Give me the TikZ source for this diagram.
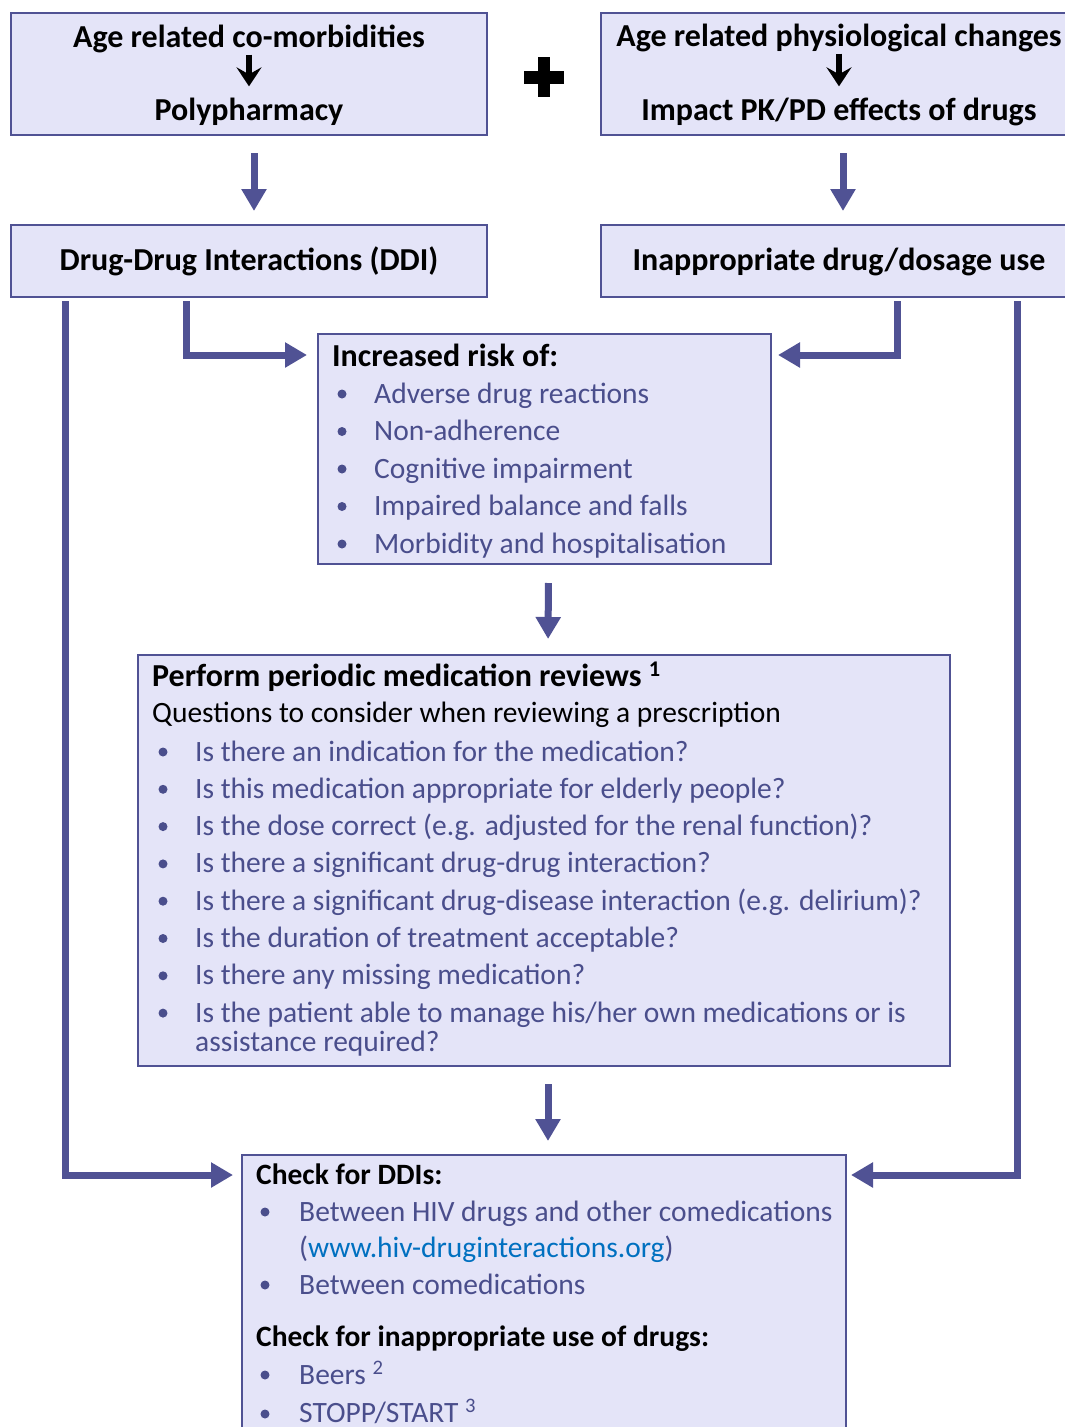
\documentclass[tikz,border=0pt]{standalone}
\usepackage{fontspec}
\setmainfont{Carlito}
\usetikzlibrary{arrows.meta,positioning,calc}
\definecolor{boxfill}{RGB}{228,228,248}
\definecolor{boxline}{RGB}{80,82,148}
\definecolor{itemcol}{RGB}{74,78,140}
\definecolor{linkcol}{RGB}{0,112,192}
\tikzset{
  box/.style={draw=boxline, line width=2pt, fill=boxfill, inner sep=0pt},
  flow/.style={draw=boxline, line width=7pt, -{Triangle[length=22pt,width=24pt]}},
  minor/.style={draw=black, line width=6pt, -{Stealth[length=19pt,width=25pt,inset=7pt]}},
  head/.style={font=\fontsize{32}{38}\selectfont\bfseries, inner sep=0pt},
  chkhead/.style={font=\fontsize{29.5}{35}\selectfont\bfseries, inner sep=0pt, anchor=base west},
  txt/.style={font=\fontsize{29.5}{35}\selectfont, text=itemcol, inner sep=0pt, anchor=base west},
  dot/.style={circle, fill=itemcol, inner sep=0pt, minimum size=9pt},
}
\begin{document}
\begin{tikzpicture}[x=1pt, y=-1pt]
  \useasboundingbox (0,0) rectangle (1065,1427);
  \clip (0,0) rectangle (1065,1427);

  % top row
  \node[box, minimum width=476pt, minimum height=122pt] (agecm) at (249,74) {};
  \node[box, minimum width=476pt, minimum height=122pt] (agephys) at (839,74) {};
  \node[head, anchor=base] (agecm1) at (249,47) {Age related co-morbidities};
  \node[head, anchor=base] (agecm2) at (249,120) {Polypharmacy};
  \node[head, anchor=base] (agephys1) at (839,46) {Age related physiological changes};
  \node[head, anchor=base] (agephys2) at (839,120) {Impact PK/PD effects of drugs};
  \draw[minor, shorten <=2pt, shorten >=11pt] (agecm1) -- (agecm2);
  \draw[minor, shorten <=2pt, shorten >=11pt] (agephys1) -- (agephys2);
  \fill (538,57) rectangle (550,97);
  \fill (524,71) rectangle (564,84);

  % second row
  \node[box, minimum width=476pt, minimum height=72pt] (ddi) at (249,261) {};
  \node[box, minimum width=476pt, minimum height=72pt] (inapp) at (839,261) {};
  \node[head, anchor=base] (ddi1) at (249,270) {Drug-Drug Interactions (DDI)};
  \node[head, anchor=base] (inapp1) at (839,270) {Inappropriate drug/dosage use};
  \draw[flow, shorten <=17pt, shorten >=13pt] ([xshift=5pt]agecm.south) -- ([xshift=5pt]ddi.north);
  \draw[flow, shorten <=17pt, shorten >=13pt] ([xshift=4pt]agephys.south) -- ([xshift=4pt]inapp.north);

  % increased risk
  \node[box, minimum width=453pt, minimum height=230pt] (risk) at (544.5,449) {};
  \node[head, anchor=base west] (risktitle) at (332,366) {Increased risk of:};
  \foreach \txt [count=\i] in {Adverse drug reactions, Non-adherence, Cognitive impairment,
      Impaired balance and falls, Morbidity and hospitalisation} {
    \node[dot] (riskdot\i) at (342,{394+(\i-1)*37.5}) {};
    \node[txt] (risk\i) at (374,{403+(\i-1)*37.5}) {\txt};
  }
  \draw[flow, shorten <=3pt, shorten >=10pt] ([xshift=176pt]ddi.south west) |- ([yshift=-22pt]risk.north west);
  \draw[flow, shorten <=3pt, shorten >=6pt] ([xshift=297pt]inapp.south west) |- ([yshift=-22pt]risk.north east);

  % medication reviews
  \node[box, minimum width=812pt, minimum height=411pt] (review) at (544,860.5) {};
  \node[head, anchor=base west] (reviewtitle) at (152,686) {Perform periodic medication reviews \textsuperscript{1}};
  \node[txt, text=black] (reviewsub) at (152,722) {Questions to consider when reviewing a prescription};
  \foreach \txt [count=\i] in {Is there an indication for the medication?,
      Is this medication appropriate for elderly people?,
      Is the dose correct (e.g. adjusted for the renal function)?,
      Is there a significant drug-drug interaction?,
      Is there a significant drug-disease interaction (e.g. delirium)?,
      Is the duration of treatment acceptable?,
      Is there any missing medication?,
      Is the patient able to manage his/her own medications or is} {
    \node[dot] (revdot\i) at (163,{752+(\i-1)*37.3}) {};
    \node[txt] (rev\i) at (195,{761+(\i-1)*37.3}) {\txt};
  }
  \node[txt] (rev8b) at (195,1051) {assistance required?};
  \draw[flow, shorten <=18pt, shorten >=15pt] ([xshift=4pt]risk.south) -- ([xshift=4pt]review.north);

  % checks
  \node[box, minimum width=604pt, minimum height=345pt] (check) at (544,1327.5) {};
  \node[chkhead] (checkddi) at (256,1184) {Check for DDIs:};
  \node[dot] (chkdot1) at (265,1212) {};
  \node[txt] (chk1) at (299,1221) {Between HIV drugs and other comedications};
  \node[txt] (chk1b) at (299,1257) {(\textcolor{linkcol}{www.hiv-druginteractions.org})};
  \node[dot] (chkdot2) at (265,1285) {};
  \node[txt] (chk2) at (299,1294) {Between comedications};
  \node[chkhead] (checkuse) at (256,1346) {Check for inappropriate use of drugs:};
  \node[dot] (chkdot3) at (265,1375) {};
  \node[txt] (chk3) at (299,1384) {Beers \textsuperscript{2}};
  \node[dot] (chkdot4) at (265,1414) {};
  \node[txt] (chk4) at (299,1422) {STOPP/START \textsuperscript{3}};
  \draw[flow, shorten <=17pt, shorten >=13pt] ([xshift=4pt]review.south) -- ([xshift=4pt]check.north);
  \draw[flow, shorten <=3pt, shorten >=8pt] ([xshift=55pt]ddi.south west) |- ([yshift=-21pt]check.north west);
  \draw[flow, shorten <=3pt, shorten >=4pt] ([xshift=417pt]inapp.south west) |- ([yshift=-21pt]check.north east);
\end{tikzpicture}
\end{document}
